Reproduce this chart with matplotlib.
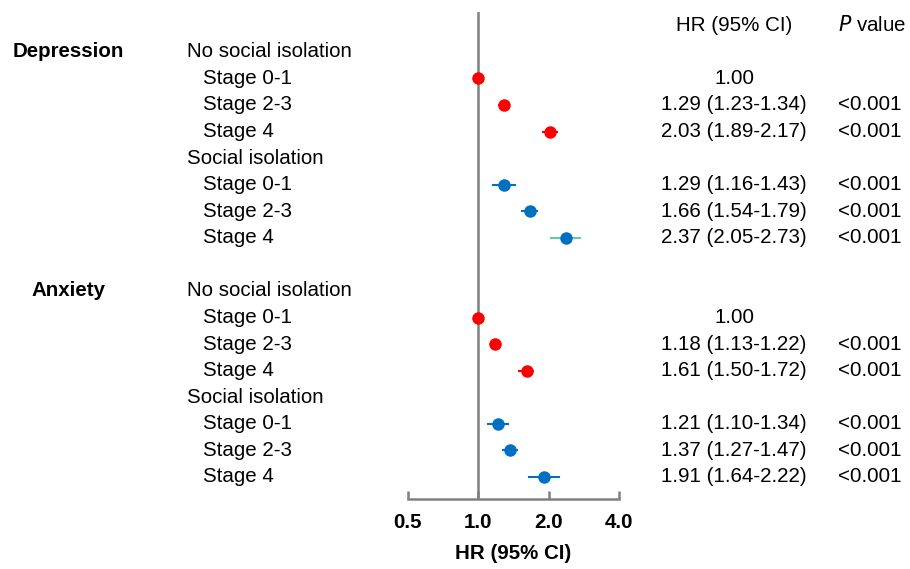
import numpy as np
import matplotlib.pyplot as plt
from matplotlib.transforms import blended_transform_factory

plt.rcParams['font.family'] = ['Liberation Sans', 'DejaVu Sans']

# Data
groups = ['Depression', 'Anxiety']
subgroups = ['No social isolation', 'Social isolation']
stages = ['Stage 0-1', 'Stage 2-3', 'Stage 4']

hr = [1.00, 1.29, 2.03, 1.29, 1.66, 2.37,
      1.00, 1.18, 1.61, 1.21, 1.37, 1.91]
lo = [1.00, 1.23, 1.89, 1.16, 1.54, 2.05,
      1.00, 1.13, 1.50, 1.10, 1.27, 1.64]
hi = [1.00, 1.34, 2.17, 1.43, 1.79, 2.73,
      1.00, 1.22, 1.72, 1.34, 1.47, 2.22]
pvals = ['', '<0.001', '<0.001', '<0.001', '<0.001', '<0.001',
         '', '<0.001', '<0.001', '<0.001', '<0.001', '<0.001']
xticks = [0.5, 1.0, 2.0, 4.0]

red = '#ff0000'
blue = '#0070c0'
green = '#5fcf9f'
gray = '#808080'

fig = plt.figure(figsize=(9.1, 5.69), dpi=100)
ax = fig.add_axes([408/910, 70/569, 211/910, 487/569])
ax.set_xscale('log', base=2)
ax.set_xlim(0.5, 4.0)
ax.set_ylim(16.83, -1.5)

# x in figure fraction, y in row units
tr = blended_transform_factory(fig.transFigure, ax.transData)
fs = 14.8

ax.axvline(1.0, color=gray, lw=1.8, zorder=1)

k = 0
for g, grp in enumerate(groups):
    base = g * 9
    ax.text(68/910, base, grp, transform=tr, fontsize=fs, fontweight='bold',
            va='center', ha='center')
    for s, sub in enumerate(subgroups):
        row = base + s * 4
        ax.text(187/910, row, sub, transform=tr, fontsize=fs, va='center', ha='left')
        for t, st in enumerate(stages):
            y = row + 1 + t
            ax.text(203/910, y, st, transform=tr, fontsize=fs, va='center', ha='left')
            c = red if s == 0 else blue
            ec = c
            if g == 0 and s == 1 and t == 2:
                ec = green
            ax.plot([lo[k], hi[k]], [y, y], color=ec, lw=1.5, zorder=2)
            ax.plot(hr[k], y, 'o', color=c, ms=9, mec='none', zorder=3)
            if lo[k] == hi[k]:
                txt = f'{hr[k]:.2f}'
            else:
                txt = f'{hr[k]:.2f} ({lo[k]:.2f}-{hi[k]:.2f})'
            ax.text(734/910, y, txt, transform=tr, fontsize=fs, va='center', ha='center')
            ax.text(838/910, y, pvals[k], transform=tr, fontsize=fs, va='center', ha='left')
            k += 1

ax.text(734/910, -1.0, 'HR (95% CI)', transform=tr, fontsize=fs, va='center', ha='center')
ax.text(838/910, -1.0, '$\\it{P}$ value', transform=tr, fontsize=fs, va='center', ha='left')

for sp in ['top', 'right', 'left']:
    ax.spines[sp].set_visible(False)
ax.spines['bottom'].set_color(gray)
ax.spines['bottom'].set_linewidth(1.8)
ax.set_yticks([])
ax.set_xticks(xticks)
ax.set_xticklabels([f'{v:.1f}' for v in xticks], fontweight='bold', fontsize=fs)
ax.minorticks_off()
ax.tick_params(axis='x', direction='in', length=6, width=1.8, color=gray, pad=10)
ax.set_xlabel('HR (95% CI)', fontweight='bold', fontsize=fs, labelpad=9)

fig.savefig('out.png', dpi=100)
